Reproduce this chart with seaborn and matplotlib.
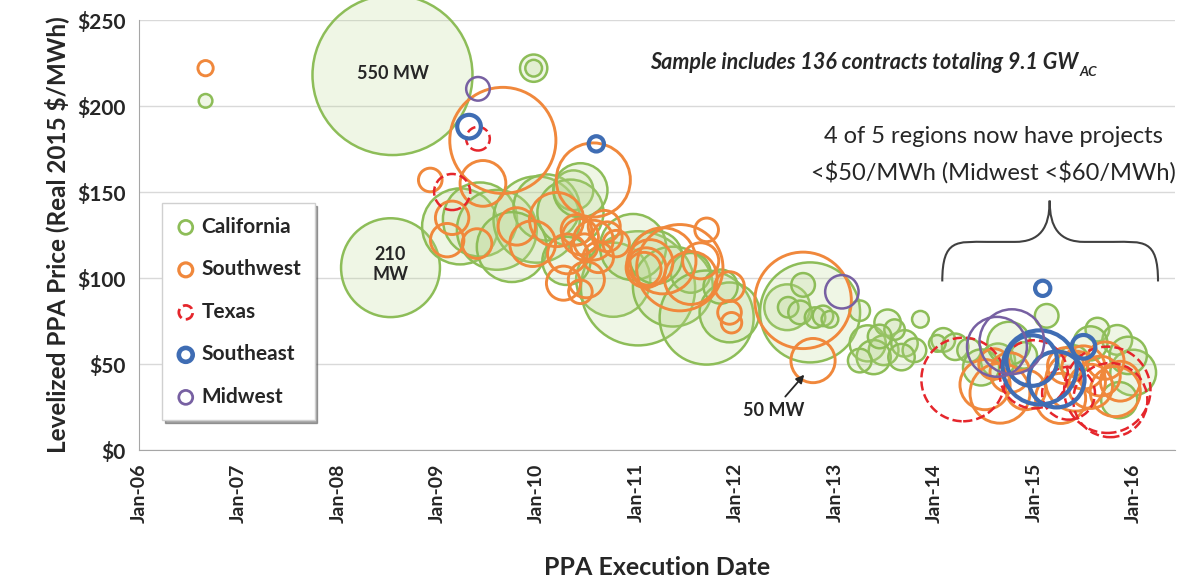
import numpy as np
import pandas as pd
import matplotlib.pyplot as plt
import seaborn as sns
from matplotlib.path import Path
from matplotlib.patches import PathPatch

# execution date (decimal year), levelized price ($/MWh), capacity (MW)
ca_date = [2006.67, 2008.55, 2008.53, 2009.97, 2009.97, 2009.23, 2009.43, 2009.60, 2010.00, 2010.10,
           2010.37, 2010.34, 2010.44, 2010.77, 2011.02, 2010.97, 2011.37, 2011.55, 2011.71, 2011.94,
           2012.52, 2012.75, 2012.68, 2012.53, 2012.65, 2012.80, 2012.88, 2012.95, 2013.25, 2013.33,
           2013.53, 2013.49, 2013.39, 2013.70, 2013.80, 2013.67, 2013.86, 2013.25, 2013.60, 2013.45,
           2014.09, 2014.21, 2014.03, 2014.35, 2014.64, 2014.47, 2015.13, 2015.64, 2015.84, 2016.00,
           2015.57, 2015.86, 2014.90, 2015.40, 2015.95, 2014.75, 2009.75, 2010.30, 2011.20, 2011.85]
ca_price = [203, 218, 106, 222, 222, 130, 134, 128, 134, 141,
            151, 138, 151, 99, 94, 118, 95, 103, 77, 80,
            83, 80, 96, 83, 80, 77, 78, 76, 81, 62,
            74, 58, 54, 62, 58, 54, 76, 52, 70, 66,
            64, 60, 62, 58, 52, 48, 78, 70, 64, 45,
            62, 29, 55, 52, 55, 62, 118, 110, 112, 95]
ca_mw = [4, 550, 210, 16, 6, 124, 118, 137, 160, 94,
         34, 94, 63, 118, 280, 94, 137, 34, 190, 77,
         45, 215, 12, 9, 12, 9, 9, 6, 9, 28,
         15, 19, 25, 15, 12, 15, 6, 12, 9, 12,
         12, 15, 6, 12, 25, 28, 12, 12, 19, 45,
         25, 28, 15, 20, 30, 40, 105, 50, 60, 25]

sw_date = [2006.67, 2009.66, 2008.93, 2009.46, 2009.15, 2009.10, 2009.40, 2009.96, 2010.20, 2010.31,
           2010.44, 2010.57, 2010.57, 2010.71, 2010.50, 2010.44, 2010.27, 2011.10, 2011.27, 2011.44,
           2011.71, 2011.94, 2011.94, 2011.96, 2012.68, 2012.78, 2011.14, 2011.08, 2010.40, 2010.48,
           2010.62, 2010.68, 2010.80, 2009.80, 2011.55, 2011.65,
           2014.51, 2014.66, 2014.76, 2015.27, 2015.42, 2015.57, 2015.67, 2015.82, 2015.87, 2015.32,
           2014.92, 2014.60, 2015.50, 2015.72]
sw_price = [222, 180, 157, 155, 135, 122, 120, 120, 134, 114,
            124, 157, 122, 124, 99, 92, 97, 106, 110, 106,
            128, 95, 80, 74, 87, 52, 109, 105, 128, 118,
            112, 130, 120, 130, 100, 110,
            38, 33, 45, 30, 40, 37, 43, 34, 40, 49,
            35, 50, 48, 52]
sw_mw = [5, 242, 12, 45, 24, 24, 19, 45, 63, 34,
         28, 118, 34, 19, 28, 12, 25, 34, 94, 160,
         12, 19, 12, 9, 200, 42, 45, 25, 20, 15,
         20, 22, 15, 30, 60, 28,
         54, 77, 34, 54, 77, 42, 34, 54, 34, 28,
         34, 20, 40, 30]

tx_date = [2009.15, 2009.41, 2014.29, 2015.00, 2015.74, 2015.77, 2015.35]
tx_price = [150, 181, 41, 44, 35, 29, 33]
tx_mw = [28, 12, 150, 100, 160, 118, 60]

se_date = [2009.32, 2010.60, 2015.09, 2015.06, 2015.23, 2014.98, 2015.50]
se_price = [188, 178, 94, 48, 41, 52, 60]
se_mw = [12, 5, 5, 118, 67, 55, 12]

mw_date = [2009.41, 2013.07, 2014.63, 2014.78]
mw_price = [210, 92, 60, 63]
mw_mw = [12, 24, 77, 90]

regions = ["California", "Southwest", "Texas", "Southeast", "Midwest"]
year_ticks = list(range(2006, 2017))
year_labels = ["Jan-06", "Jan-07", "Jan-08", "Jan-09", "Jan-10", "Jan-11",
               "Jan-12", "Jan-13", "Jan-14", "Jan-15", "Jan-16"]
price_ticks = [0, 50, 100, 150, 200, 250]
price_labels = [r"\$0", r"\$50", r"\$100", r"\$150", r"\$200", r"\$250"]

series = {
    "California": (ca_date, ca_price, ca_mw),
    "Southwest": (sw_date, sw_price, sw_mw),
    "Texas": (tx_date, tx_price, tx_mw),
    "Southeast": (se_date, se_price, se_mw),
    "Midwest": (mw_date, mw_price, mw_mw),
}

# face, edge, line width, line style
looks = {
    "California": ((0.72, 0.84, 0.55, 0.22), "#8dbd58", 1.8, "-"),
    "Southwest": ("none", "#f0883c", 2.1, "-"),
    "Texas": ("none", "#e5262c", 1.8, "--"),
    "Southeast": ("none", "#3f6db4", 3.0, "-"),
    "Midwest": ("none", "#7760a2", 1.8, "-"),
}

sns.set_style("white")
plt.rcParams["font.family"] = ["Lato", "DejaVu Sans"]
TXT = "#262626"

fig = plt.figure(figsize=(12, 5.82), dpi=100)
ax = fig.add_axes([0.1158, 0.2268, 0.8633, 0.7388])

MW_MAX = 550
S_MAX = 13270   # 550 MW bubble is ~160 px across

for i, reg in enumerate(regions):
    d, p, m = series[reg]
    df = pd.DataFrame({"date": d, "price": p, "mw": m})
    fc, ec, lw, ls = looks[reg]
    sns.scatterplot(data=df, x="date", y="price", size="mw", sizes=(0, S_MAX),
                    size_norm=(0, MW_MAX), legend=False, ax=ax,
                    facecolor=fc, edgecolor=ec, linewidth=lw, linestyle=ls,
                    clip_on=False, zorder=3 + i)

ax.set_xlim(2006, 2016.42)
ax.set_ylim(0, 250)
ax.set_xticks(year_ticks)
ax.set_xticklabels(year_labels, rotation=90)
ax.set_yticks(price_ticks)
ax.set_yticklabels(price_labels)
ax.yaxis.grid(True, color="#d9d9d9", lw=1)
ax.set_axisbelow(True)
sns.despine(ax=ax)
for s in ["left", "bottom"]:
    ax.spines[s].set_color("#a6a6a6")
ax.tick_params(axis="both", direction="out", length=6, color="#a6a6a6", labelcolor=TXT)
ax.tick_params(axis="x", labelsize=14)
ax.tick_params(axis="y", labelsize=15)
for lab in ax.get_xticklabels() + ax.get_yticklabels():
    lab.set_fontweight("bold")

ax.set_xlabel("PPA Execution Date", fontsize=18, fontweight="bold", color=TXT, labelpad=24)
ax.set_ylabel(r"Levelized PPA Price (Real 2015 \$/MWh)", fontsize=17.5,
              fontweight="bold", color=TXT, labelpad=6)

# legend
handles = []
for reg in regions:
    fc, ec, lw, ls = looks[reg]
    h = ax.scatter([], [], s=100, facecolors="none", edgecolors=ec,
                   linewidths=lw * 1.1, linestyles=ls, label=reg)
    handles.append(h)
leg = ax.legend(handles=handles, loc="upper left", bbox_to_anchor=(0.012, 0.598),
                frameon=True, fancybox=False, shadow=True, edgecolor="#d0d0d0",
                prop={"weight": "bold", "size": 15}, labelspacing=1.08,
                handletextpad=0.25, borderpad=0.65, handlelength=1.0)
for t in leg.get_texts():
    t.set_color(TXT)

# annotations
ax.text(2008.55, 219, "550 MW", ha="center", va="center", fontsize=13,
        fontweight="bold", color=TXT, zorder=10)
ax.text(2008.53, 108, "210\nMW", ha="center", va="center", fontsize=13,
        fontweight="bold", color=TXT, zorder=10, linespacing=1.2)
ax.annotate("50 MW", xy=(2012.71, 45), xytext=(2012.38, 23), ha="center", va="center",
            fontsize=13, fontweight="bold", color=TXT, zorder=10,
            arrowprops=dict(arrowstyle="-|>", color=TXT, lw=1.3, mutation_scale=12))

ax.text(2015.45, 225.5, "Sample includes 136 contracts totaling 9.1 GW",
        ha="right", va="center", fontsize=15.5, fontweight="bold", style="italic", color=TXT)
ax.text(2015.46, 220, "AC", ha="left", va="center", fontsize=10,
        fontweight="bold", style="italic", color=TXT)

ax.text(2014.59, 182, "4 of 5 regions now have projects", ha="center", va="center",
        fontsize=17, color=TXT)
ax.text(2014.59, 161.5, r"<\$50/MWh (Midwest <\$60/MWh)", ha="center", va="center",
        fontsize=17, color=TXT, clip_on=False)

# curly brace over the 2014-2016 cluster
x0, xm, x1 = 2014.08, 2015.16, 2016.25
ye, yb, yp = 98, 121, 145
verts = [(x0, ye),
         (x0, yb + 2), (x0 + 0.15, yb), (x0 + 0.45, yb),
         (xm - 0.35, yb),
         (xm - 0.1, yb), (xm, yb + 8), (xm, yp),
         (xm, yb + 8), (xm + 0.1, yb), (xm + 0.35, yb),
         (x1 - 0.45, yb),
         (x1 - 0.15, yb), (x1, yb + 2), (x1, ye)]
codes = [Path.MOVETO,
         Path.CURVE4, Path.CURVE4, Path.CURVE4,
         Path.LINETO,
         Path.CURVE4, Path.CURVE4, Path.CURVE4,
         Path.CURVE4, Path.CURVE4, Path.CURVE4,
         Path.LINETO,
         Path.CURVE4, Path.CURVE4, Path.CURVE4]
ax.add_patch(PathPatch(Path(verts, codes), facecolor="none", edgecolor="#404040",
                       lw=1.5, clip_on=False, zorder=10))

fig.savefig("out.png", dpi=100)
